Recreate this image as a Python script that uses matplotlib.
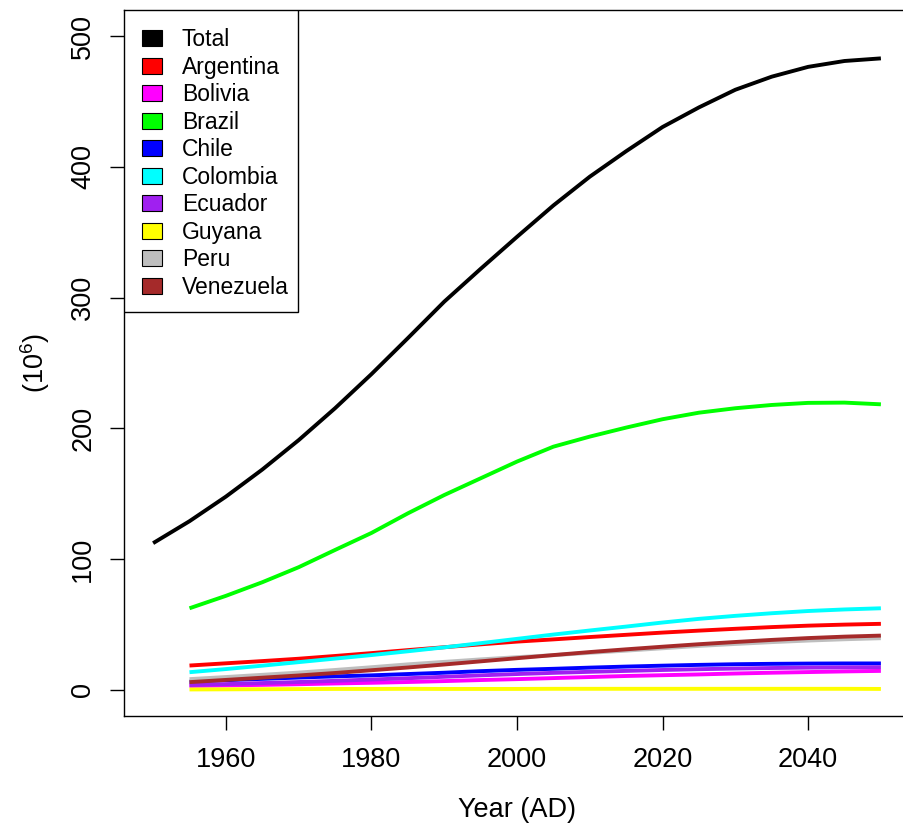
import matplotlib
matplotlib.use("Agg")
import matplotlib.pyplot as plt
from matplotlib.patches import Patch, Rectangle

plt.rcParams['font.family'] = ['Liberation Sans', 'DejaVu Sans']
plt.rcParams['mathtext.default'] = 'regular'

# population in millions
years_total = list(range(1950, 2051, 5))
years = list(range(1955, 2051, 5))

total = [112.2, 129.0, 147.8, 168.5, 191.0, 215.4, 241.5, 269.0, 296.9, 322.0, 346.5,
         370.5, 392.5, 412.0, 430.5, 445.5, 459.0, 469.0, 476.5, 481.0, 483.0]
argentina = [18.6, 20.3, 22.0, 23.8, 25.9, 28.1, 30.4, 32.6, 34.8, 36.9,
             38.6, 40.4, 42.1, 43.8, 45.3, 46.7, 48.0, 49.1, 49.9, 50.5]
bolivia = [3.0, 3.4, 3.8, 4.3, 4.9, 5.4, 6.0, 6.7, 7.5, 8.2,
           9.0, 9.8, 10.6, 11.2, 11.8, 12.5, 13.1, 13.6, 14.1, 14.5]
brazil = [62.4, 71.9, 82.3, 93.8, 107.0, 120.0, 135.0, 149.0, 161.8, 174.6,
          186.0, 193.7, 200.6, 207.0, 212.0, 215.4, 217.9, 219.5, 219.7, 218.4]
chile = [6.3, 7.4, 8.4, 9.4, 10.3, 11.1, 12.1, 13.1, 14.3, 15.3,
         16.1, 17.0, 17.8, 18.5, 19.1, 19.6, 19.9, 20.1, 20.2, 20.2]
colombia = [13.5, 15.9, 18.5, 21.2, 23.9, 26.6, 29.5, 32.5, 35.7, 39.0,
            42.3, 45.4, 48.4, 51.5, 54.3, 56.6, 58.6, 60.3, 61.5, 62.4]
ecuador = [3.7, 4.4, 5.2, 6.0, 6.9, 7.9, 8.9, 10.0, 11.1, 12.1,
           13.0, 13.8, 14.5, 15.2, 15.8, 16.3, 16.7, 17.0, 17.2, 17.3]
guyana = [0.3, 0.4, 0.5, 0.6, 0.7, 0.7, 0.8, 0.7, 0.7, 0.7,
          0.8, 0.8, 0.8, 0.8, 0.8, 0.8, 0.8, 0.8, 0.8, 0.7]
peru = [8.2, 9.8, 11.5, 13.2, 15.2, 17.3, 19.5, 21.4, 23.3, 25.0,
        26.5, 28.3, 30.0, 31.8, 33.6, 35.1, 36.5, 37.7, 38.7, 39.5]
venezuela = [5.9, 7.6, 9.3, 11.0, 12.9, 15.0, 17.1, 19.4, 21.8, 24.2,
             26.6, 28.9, 31.0, 33.0, 34.9, 36.6, 38.2, 39.6, 40.7, 41.5]

names = ["Total", "Argentina", "Bolivia", "Brazil", "Chile", "Colombia",
         "Ecuador", "Guyana", "Peru", "Venezuela"]
series = [total, argentina, bolivia, brazil, chile, colombia,
          ecuador, guyana, peru, venezuela]
colors = ["black", "red", "magenta", "lime", "blue", "cyan",
          "#a020f0", "yellow", "#bebebe", "#a52a2a"]

fig = plt.figure(figsize=(9.04, 8.27), dpi=100)
ax = fig.add_axes([124 / 904, 111 / 827, 786 / 904, 706 / 827])

for name, vals, col in zip(names, series, colors):
    xs = years_total if name == "Total" else years
    ax.plot(xs, vals, color=col, lw=2.8, solid_capstyle='butt')

ax.set_xlim(1946, 2054)
ax.set_ylim(-20, 520)
ax.set_xticks([1960, 1980, 2000, 2020, 2040])
ax.set_yticks([0, 100, 200, 300, 400, 500])
ax.tick_params(axis='both', labelsize=19.5, length=10, width=1, direction='out')
ax.tick_params(axis='x', pad=12)
ax.tick_params(axis='y', pad=10)
for lab in ax.get_yticklabels():
    lab.set_rotation(90)
    lab.set_va('center')
for sp in ax.spines.values():
    sp.set_linewidth(1)
ax.spines['right'].set_visible(False)

ax.set_xlabel("Year (AD)", fontsize=19.5)
ax.xaxis.set_label_coords(0.5, -0.133)
ax.xaxis.label.set_va('center')
ax.set_ylabel("(10$^6$)", fontsize=19.5)
ax.yaxis.set_label_coords(-0.113, 0.5)
ax.yaxis.label.set_va('center')

# legend box drawn separately (R's legend has a tighter right margin)
ax.add_patch(Rectangle((0, 1 - 302 / 706), 174 / 786, 302 / 706, transform=ax.transAxes,
                       facecolor='white', edgecolor='black', lw=1, zorder=4))
handles = [Patch(facecolor=c, edgecolor='black', lw=0.8) for c in colors]
leg = ax.legend(handles, names, loc='upper left', bbox_to_anchor=(0, 1),
                borderaxespad=0, fontsize=16.5, frameon=False,
                handlelength=0.85, handleheight=0.7,
                handletextpad=0.88, labelspacing=0.195, borderpad=0.8)
leg.set_zorder(5)

fig.savefig("out.png", dpi=100)
